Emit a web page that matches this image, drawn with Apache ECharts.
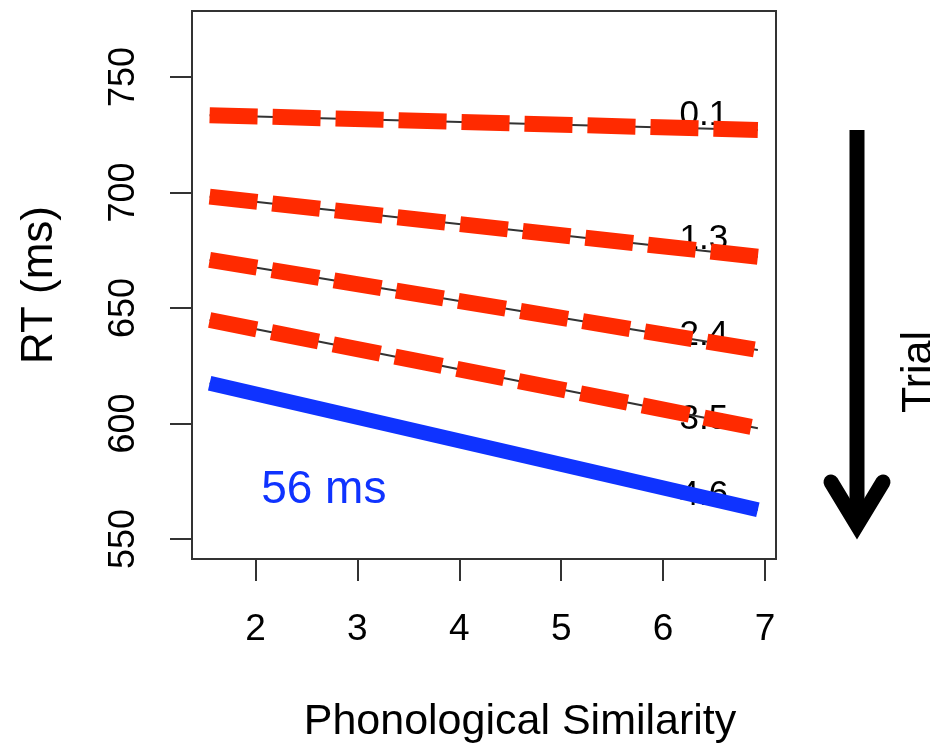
<!DOCTYPE html>
<html>
<head>
<meta charset="utf-8">
<script src="https://cdn.jsdelivr.net/npm/echarts@6/dist/echarts.min.js"></script>
<style>
  html, body { margin: 0; padding: 0; background: #fff; }
  #chart { width: 930px; height: 743px; }
</style>
</head>
<body>
<div id="chart"></div>
<script>
// x positions where the fitted lines start and end
const simEnds = [1.55, 6.93]
// RT at those two ends for each trial value
const rtTrial01 = [733.5, 727.1]
const rtTrial13 = [698.2, 672.2]
const rtTrial24 = [670.8, 631.8]
const rtTrial35 = [644.8, 597.9]
const rtTrial46 = [617.4, 562.6]

const trialNames = ['0.1', '1.3', '2.4', '3.5', '4.6']
const trialLabelX = [6.4, 6.4, 6.4, 6.4, 6.4]
const trialLabelY = [733.3, 679.9, 638.3, 601.7, 569.0]

const diffText = '56 ms'
const diffX = 2.67
const diffY = 571.2

const xTicks = [2, 3, 4, 5, 6, 7]
const yTicks = [550, 600, 650, 700, 750]

const FONT = "'Liberation Sans', Arial, Helvetica, sans-serif"
const RED = '#ff2a00'
const BLUE = '#0f33ff'

const chart = echarts.init(document.getElementById('chart'))

const pairs = ys => simEnds.map((x, i) => [x, ys[i]])
const redSeries = [rtTrial01, rtTrial13, rtTrial24, rtTrial35]

const series = []
// thin black fitted lines underneath
redSeries.concat([rtTrial46]).forEach(ys => {
  series.push({
    type: 'line',
    data: pairs(ys),
    symbol: 'none',
    z: 2,
    lineStyle: { color: '#333', width: 2 }
  })
})
// thick red dashed lines
redSeries.forEach(ys => {
  series.push({
    type: 'line',
    data: pairs(ys),
    symbol: 'none',
    z: 3,
    lineStyle: { color: RED, width: 16, type: [48, 15], cap: 'butt' }
  })
})
// blue solid line
series.push({
  type: 'line',
  data: pairs(rtTrial46),
  symbol: 'none',
  z: 3,
  lineStyle: { color: BLUE, width: 15, cap: 'butt' }
})
// trial labels (drawn below the lines)
series.push({
  type: 'scatter',
  symbolSize: 0,
  z: 1,
  itemStyle: { opacity: 1 },
  data: trialNames.map((n, i) => ({ name: n, value: [trialLabelX[i], trialLabelY[i]] })),
  label: {
    show: true,
    position: 'inside',
    formatter: p => p.name,
    color: '#000',
    opacity: 1,
    fontSize: 35,
    fontFamily: FONT
  }
})
series.push({
  type: 'scatter',
  symbolSize: 0,
  z: 4,
  itemStyle: { opacity: 1 },
  data: [{ name: diffText, value: [diffX, diffY] }],
  label: {
    show: true,
    position: 'inside',
    formatter: p => p.name,
    color: BLUE,
    opacity: 1,
    fontSize: 46,
    fontFamily: FONT
  }
})

chart.setOption({
  animation: false,
  backgroundColor: '#fff',
  grid: {
    left: 192, top: 11, right: 154, bottom: 184,
    outerBoundsMode: 'none',
    containLabel: false,
    show: true, borderColor: '#333', borderWidth: 2, backgroundColor: 'transparent'
  },
  xAxis: {
    type: 'value',
    min: 1.377,
    max: 7.108,
    name: 'Phonological Similarity',
    nameLocation: 'middle',
    nameGap: 142,
    nameTextStyle: { fontSize: 43, fontFamily: FONT, color: '#000', padding: [0, 0, 0, 72] },
    axisLine: { show: false },
    splitLine: { show: false },
    axisTick: { show: true, length: 22, customValues: xTicks, lineStyle: { color: '#333', width: 2 } },
    axisLabel: { customValues: xTicks, fontSize: 37, fontFamily: FONT, color: '#000', margin: 52 }
  },
  yAxis: {
    type: 'value',
    min: 541.3,
    max: 778.6,
    name: 'RT (ms)',
    nameLocation: 'middle',
    nameGap: 130,
    nameTextStyle: { fontSize: 44, fontFamily: FONT, color: '#000' },
    axisLine: { show: false },
    splitLine: { show: false },
    axisTick: { show: true, length: 22, customValues: yTicks, lineStyle: { color: '#333', width: 2 } },
    axisLabel: { customValues: yTicks, rotate: 90, fontSize: 36, fontFamily: FONT, color: '#000', margin: 50 }
  },
  graphic: [
    {
      type: 'line',
      shape: { x1: 857, y1: 130, x2: 857, y2: 520 },
      style: { stroke: '#000', lineWidth: 15, lineCap: 'butt' }
    },
    {
      type: 'polyline',
      shape: { points: [[831, 482], [857, 525], [883, 482]] },
      style: { stroke: '#000', lineWidth: 15, lineCap: 'round', lineJoin: 'miter', fill: null }
    },
    {
      type: 'text',
      x: 919,
      y: 372,
      rotation: Math.PI / 2,
      style: { text: 'Trial', fontSize: 43, fontFamily: FONT, fill: '#000', align: 'center', verticalAlign: 'middle' }
    }
  ],
  series: series
})
</script>
</body>
</html>
